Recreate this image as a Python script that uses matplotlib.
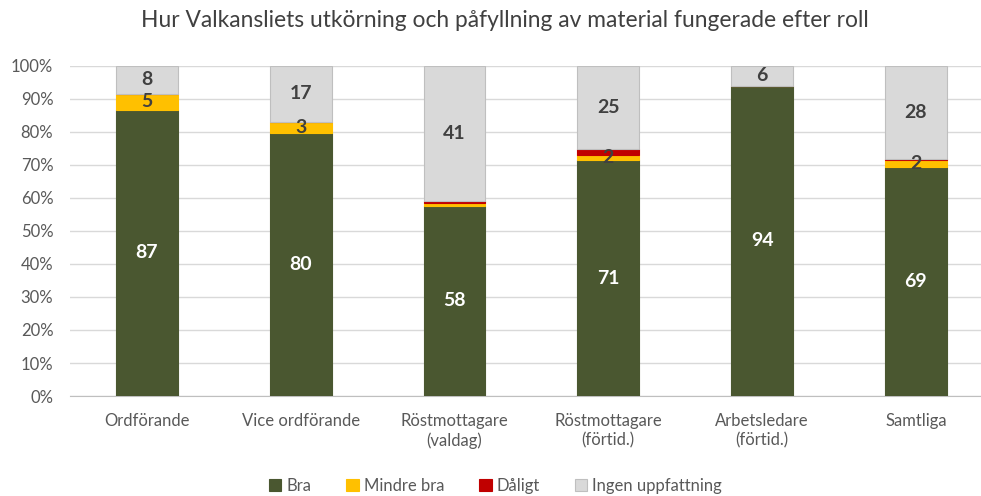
import numpy as np
import matplotlib.pyplot as plt
from matplotlib import rcParams
rcParams['font.family'] = ['Lato', 'DejaVu Sans']

categories = ['Ordförande', 'Vice ordförande', 'Röstmottagare\n(valdag)',
              'Röstmottagare\n(förtid.)', 'Arbetsledare\n(förtid.)', 'Samtliga']
bra = [86.8, 79.8, 57.6, 71.4, 94.0, 69.3]
mindre_bra = [4.8, 3.3, 1.0, 1.5, 0.0, 2.3]
daligt = [0.0, 0.0, 0.5, 1.8, 0.0, 0.3]
ingen = [8.4, 16.9, 40.9, 25.3, 6.0, 28.1]

series = [('Bra', bra, '#4A5730', 'white'),
          ('Mindre bra', mindre_bra, '#FFC000', '#404040'),
          ('Dåligt', daligt, '#C00000', None),
          ('Ingen uppfattning', ingen, '#D9D9D9', '#404040')]

fig = plt.figure(figsize=(9.81, 4.96), dpi=100)
ax = fig.add_axes([70 / 981, 0.2016, 922.8 / 981, 0.6654])

x = np.arange(len(categories))
bottom = np.zeros(len(categories))
for name, vals, col, tcol in series:
    vals = np.array(vals)
    ec = '#BFBFBF' if name == 'Ingen uppfattning' else col
    ax.bar(x, vals, 0.403, bottom=bottom, color=col, edgecolor=ec,
           linewidth=0.8, label=name, zorder=3)
    if tcol is not None:
        for xi, b, v in zip(x, bottom, vals):
            if v >= 1.5:
                ax.text(xi, b + v / 2, f'{v:.0f}', ha='center', va='center',
                        fontsize=14, fontweight='bold', color=tcol, zorder=4)
    bottom += vals

ax.set_ylim(0, 100)
ax.set_xlim(-0.5, len(categories) - 0.5)
ax.set_yticks(np.arange(0, 101, 10))
ax.set_yticklabels([f'{v}%' for v in range(0, 101, 10)])
ax.set_xticks(x)
ax.set_xticklabels(categories, linespacing=1.3)
ax.tick_params(axis='both', length=0, labelsize=12, colors='#595959')
ax.tick_params(axis='y', pad=12)
ax.tick_params(axis='x', pad=12)
ax.grid(axis='y', color='#D9D9D9', linewidth=1, zorder=0)
for s in ['top', 'right', 'left']:
    ax.spines[s].set_visible(False)
ax.spines['bottom'].set_color('#BFBFBF')

fig.suptitle('Hur Valkansliets utkörning och påfyllning av material fungerade efter roll',
             fontsize=16.4, color='#404040', x=0.515, y=0.98)
fig.legend(loc='center', ncol=4, frameon=False, fontsize=12,
           bbox_to_anchor=(0.505, 0.02), handlelength=0.75, handleheight=0.75,
           handletextpad=0.3, columnspacing=2.1, labelcolor='#595959')

fig.savefig('out.png', dpi=100)
